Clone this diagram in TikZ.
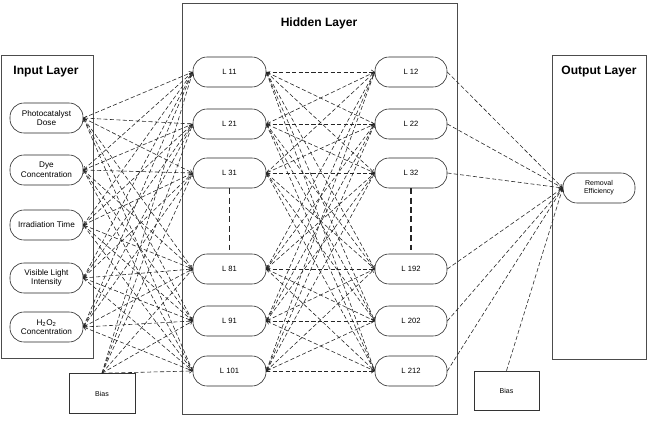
\documentclass[tikz,border=0pt]{standalone}
\usepackage{fontspec}
\setmainfont{Liberation Sans}
\usetikzlibrary{arrows.meta, positioning}

\begin{document}
\begin{tikzpicture}[x=0.03cm, y=-0.03cm,
		layer_box/.style  = {draw=black!70, line width=0.7pt},
		layer_title/.style = {font=\fontsize{10.3}{12}\selectfont\bfseries},
		in_node/.style    = {draw=black!85, rectangle, rounded corners=0.42cm, line width=0.5pt,
			minimum width=2.19cm, minimum height=0.9cm, align=center, inner sep=1pt,
			font=\fontsize{7}{8.2}\selectfont},
		hid_node/.style   = {in_node, font=\fontsize{6.5}{7.5}\selectfont},
		out_node/.style   = {in_node, minimum width=2.16cm, font=\fontsize{6}{7}\selectfont},
		bias_box/.style   = {draw=black!80, rectangle, line width=0.5pt, minimum width=1.98cm,
			minimum height=1.2cm, font=\fontsize{6}{7}\selectfont},
		link/.style       = {draw=black!85, line width=0.5pt, dash pattern=on 3.5pt off 2pt,
			>={Straight Barb[length=2.5pt, width=3.5pt]}},
		gap/.style        = {draw=black!85, dash pattern=on 5pt off 3pt}
	]
	\useasboundingbox[fill=white] (0,0) rectangle (650,424);
	
	% layer frames
	\draw[layer_box] (1,55) rectangle (93,358);
	\draw[layer_box] (182,3) rectangle (457,414);
	\draw[layer_box] (552,55) rectangle (646,359);
	\node[layer_title] (t_in) at (46,72) {Input Layer};
	\node[layer_title] (t_hid) at (319,23) {Hidden Layer};
	\node[layer_title] (t_out) at (599,72) {Output Layer};
	
	% input nodes
	\node[in_node] (in1) at (46.5,118) {Photocatalyst\\Dose};
	\node[in_node] (in2) at (46.5,170) {Dye\\Concentration};
	\node[in_node] (in3) at (46.5,225) {Irradiation Time};
	\node[in_node] (in4) at (46.5,278) {Visible Light\\Intensity};
	\node[in_node] (in5) at (46.5,327) {H\textsubscript{2}O\textsubscript{2}\\Concentration};
	
	% hidden nodes
	\node[hid_node] (h1) at (229.5,72) {L 11};
	\node[hid_node] (h2) at (229.5,124) {L 21};
	\node[hid_node] (h3) at (229.5,173) {L 31};
	\node[hid_node] (h4) at (229.5,269) {L 81};
	\node[hid_node] (h5) at (229.5,321) {L 91};
	\node[hid_node] (h6) at (229.5,371) {L 101};
	
	\node[hid_node, minimum width=2.16cm] (r1) at (411,72) {L 12};
	\node[hid_node, minimum width=2.16cm] (r2) at (411,124) {L 22};
	\node[hid_node, minimum width=2.16cm] (r3) at (411,173) {L 32};
	\node[hid_node, minimum width=2.16cm] (r4) at (411,269) {L 192};
	\node[hid_node, minimum width=2.16cm] (r5) at (411,321) {L 202};
	\node[hid_node, minimum width=2.16cm] (r6) at (411,371) {L 212};
	
	% output and bias
	\node[out_node] (eff) at (599,188) {Removal\\Efficiency};
	\node[bias_box] (bias_l) at (102,393.5) {Bias};
	\node[bias_box, minimum width=1.95cm, minimum height=1.17cm] (bias_r) at (506.5,390.5) {Bias};
	
	% ellipsis between the node groups
	\draw[gap] (h3) -- (h4);
	\draw[gap, line width=1.2pt] (r3) -- (r4);
	
	% input -> first hidden column
	\foreach \i in {1,...,5}
	\foreach \j in {1,...,6}{
		\pgfmathtruncatemacro{\parity}{mod(\i+\j,2)}
		\ifnum\parity=0
		\draw[link, ->] (in\i.east) -- (h\j.west);
		\else
		\draw[link, <-] (in\i.east) -- (h\j.west);
		\fi
	}
	\foreach \j in {1,...,6}
	\draw[link, ->] (bias_l.north) -- (h\j.west);
	
	% first -> second hidden column
	\foreach \i in {1,...,6}
	\foreach \j in {1,...,6}{
		\pgfmathtruncatemacro{\parity}{mod(\i+\j,2)}
		\ifnum\parity=0
		\draw[link, ->] (h\i.east) -- (r\j.west);
		\else
		\draw[link, <-] (h\i.east) -- (r\j.west);
		\fi
	}
	
	% second hidden column -> output
	\foreach \j in {1,...,6}
	\draw[link, ->] (r\j.east) -- (eff.west);
	\draw[link, ->] (bias_r.north) -- (eff.west);
\end{tikzpicture}
\end{document}
